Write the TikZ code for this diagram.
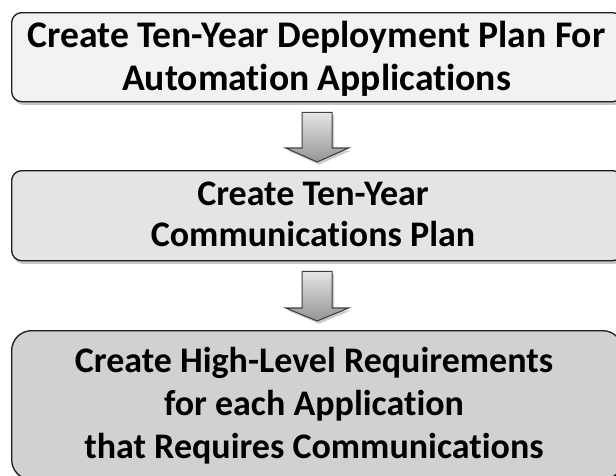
\documentclass[tikz,border=0pt]{standalone}
\usepackage{fontspec}
\setmainfont{Carlito}[Ligatures={NoCommon}]
\usetikzlibrary{shadows,calc}
\begin{document}
\begin{tikzpicture}[x=0.75pt,y=-0.75pt,
  stepbox/.style={draw=black!88, line width=1pt, inner sep=0pt, anchor=north west,
    minimum width=458.25pt,
    drop shadow={opacity=0.45, shadow xshift=1.2pt, shadow yshift=-2.4pt}},
  txt/.style={align=center, inner sep=0pt, anchor=base, text=black},
  blockarrow/.style={draw=black!75, line width=0.8pt, line join=miter,
    top color=black!10, bottom color=black!42,
    drop shadow={opacity=0.4, shadow xshift=1.5pt, shadow yshift=-2pt}}
]
\useasboundingbox (0,0) rectangle (616,475);
\clip (0,0) rectangle (616,475);
\fill[white] (0,0) rectangle (616,475);

% boxes
\node[stepbox, fill=black!5, rounded corners=7.5pt, minimum height=66.75pt] (b1) at (11,12) {};
\node[stepbox, fill=black!10.5, rounded corners=7.5pt, minimum height=67.5pt] (b2) at (11,170) {};
\node[stepbox, fill=black!18, rounded corners=15pt, minimum height=111.75pt] (b3) at (11,330) {};

% texts (anchor base = baseline of the last line)
\node[txt, font=\bfseries\fontsize{28.2}{32.25}\selectfont] (t1) at (316.5,90)
  {Create Ten-Year Deployment Plan For\\Automation Applications};
\node[txt, font=\bfseries\fontsize{27}{30.75}\selectfont] (t2) at (313,246)
  {Create Ten-Year\\Communications Plan};
\node[txt, font=\bfseries\fontsize{27}{31.9}\selectfont] (t3) at (314,458)
  {Create High-Level Requirements\\for each Application\\that Requires Communications};

% block arrows
\path (b1.south) ++(0,10) coordinate (a1s);
\path (b2.north) ++(0,-8) coordinate (a1e);
\path (b2.south) ++(0,10) coordinate (a2s);
\path (b3.north) ++(0,-9) coordinate (a2e);

\draw[blockarrow] ($(a1s)+(-15,0)$) -- ($(a1s)+(15,0)$) -- ($(a1e)+(15,-14)$)
  -- ($(a1e)+(31.5,-14)$) -- (a1e) -- ($(a1e)+(-31.5,-14)$) -- ($(a1e)+(-15,-14)$) -- cycle;
\draw[blockarrow] ($(a2s)+(-15,0)$) -- ($(a2s)+(15,0)$) -- ($(a2e)+(15,-13)$)
  -- ($(a2e)+(31.5,-13)$) -- (a2e) -- ($(a2e)+(-31.5,-13)$) -- ($(a2e)+(-15,-13)$) -- cycle;
\end{tikzpicture}
\end{document}
